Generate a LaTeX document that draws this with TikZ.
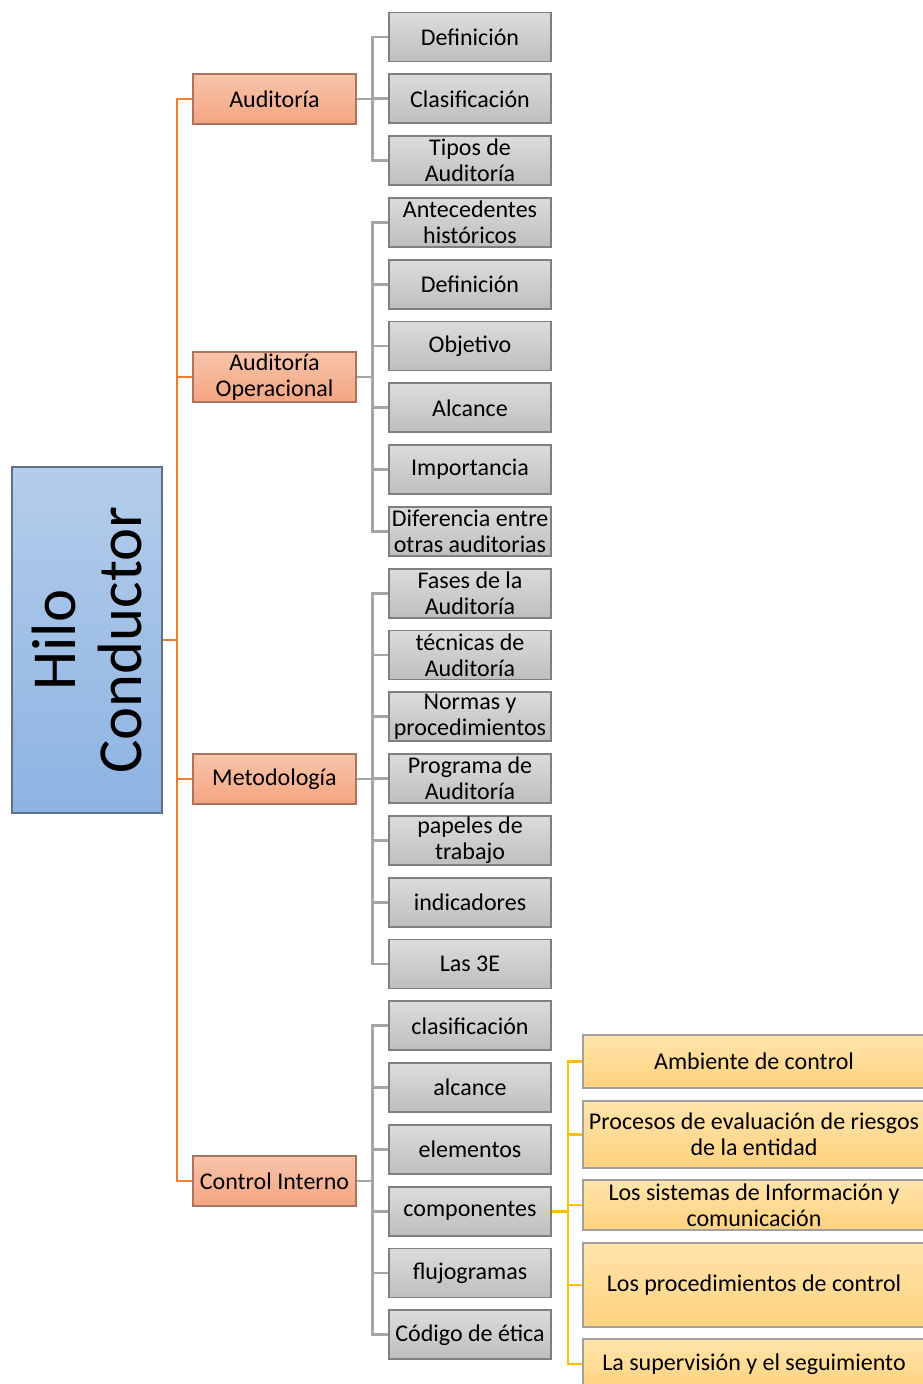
\documentclass[tikz,border=0pt]{standalone}
\usepackage{fontspec}
\setmainfont{Carlito}
\begin{document}
\begin{tikzpicture}[x=0.75pt,y=-0.75pt,
  txt/.style={font=\fontsize{18}{19.5}\selectfont, align=center, inner sep=0pt, text=black},
  rootbox/.style={draw=rootedge, line width=1.5pt, top color=rootA, bottom color=rootB,
    minimum width=259.5pt, minimum height=112.5pt, rotate=90, align=center, inner sep=0pt,
    font=\fontsize{47}{49}\selectfont},
  obox/.style={txt, draw=oedge, line width=1.3pt, top color=oA, bottom color=oB,
    minimum width=122pt, minimum height=37.5pt},
  gbox/.style={txt, draw=gedge, line width=1.3pt, top color=gA, bottom color=gB,
    minimum width=121.5pt, minimum height=36.75pt},
  ybox/.style={txt, draw=yedge, line width=1.3pt, top color=yA, bottom color=yB,
    minimum width=256.5pt},
  oline/.style={draw=ocol, line width=1.8pt},
  gline/.style={draw=gcol, line width=2pt},
  yline/.style={draw=ycol, line width=2pt}]
\definecolor{rootA}{HTML}{B4CDEB}\definecolor{rootB}{HTML}{8DB3E2}\definecolor{rootedge}{HTML}{5F7189}
\definecolor{oA}{HTML}{F8C4AA}\definecolor{oB}{HTML}{F4A581}\definecolor{oedge}{HTML}{A87560}
\definecolor{gA}{HTML}{DCDCDC}\definecolor{gB}{HTML}{BEBEBE}\definecolor{gedge}{HTML}{7F7F7F}
\definecolor{yA}{HTML}{FFE4AC}\definecolor{yB}{HTML}{FFD27E}\definecolor{yedge}{HTML}{A0A0A0}
\definecolor{ocol}{HTML}{ED7D31}\definecolor{gcol}{HTML}{A5A5A5}\definecolor{ycol}{HTML}{FFC000}

\useasboundingbox (0,0) rectangle (923,1384);

% root
\node[rootbox] (root) at (87,640) {Hilo\\Conductor};

% second level
\node[obox] (o1) at (274.5,99) {Auditoría};
\node[obox] (o2) at (274.5,377) {Auditoría\\Operacional};
\node[obox] (o3) at (274.5,779) {Metodología};
\node[obox] (o4) at (274.5,1181) {Control Interno};

% third level
\def\gy#1{37+61.8*#1}
\node[gbox] (g0)  at (470,{\gy{0}})  {Definición};
\node[gbox] (g1)  at (470,{\gy{1}})  {Clasificación};
\node[gbox] (g2)  at (470,{\gy{2}})  {Tipos de\\Auditoría};
\node[gbox] (g3)  at (470,{\gy{3}})  {Antecedentes\\históricos};
\node[gbox] (g4)  at (470,{\gy{4}})  {Definición};
\node[gbox] (g5)  at (470,{\gy{5}})  {Objetivo};
\node[gbox] (g6)  at (470,{\gy{6}})  {Alcance};
\node[gbox] (g7)  at (470,{\gy{7}})  {Importancia};
\node[gbox] (g8)  at (470,{\gy{8}})  {Diferencia entre\\otras auditorias};
\node[gbox] (g9)  at (470,{\gy{9}})  {Fases de la\\Auditoría};
\node[gbox] (g10) at (470,{\gy{10}}) {técnicas de\\Auditoría};
\node[gbox] (g11) at (470,{\gy{11}}) {Normas y\\procedimientos};
\node[gbox] (g12) at (470,{\gy{12}}) {Programa de\\Auditoría};
\node[gbox] (g13) at (470,{\gy{13}}) {papeles de\\trabajo};
\node[gbox] (g14) at (470,{\gy{14}}) {indicadores};
\node[gbox] (g15) at (470,{\gy{15}}) {Las 3E};
\node[gbox] (g16) at (470,{\gy{16}}) {clasificación};
\node[gbox] (g17) at (470,{\gy{17}}) {alcance};
\node[gbox] (g18) at (470,{\gy{18}}) {elementos};
\node[gbox] (g19) at (470,{\gy{19}}) {componentes};
\node[gbox] (g20) at (470,{\gy{20}}) {flujogramas};
\node[gbox] (g21) at (470,{\gy{21}}) {Código de ética};

% components
\node[ybox, minimum height=39.75pt] (y1) at (754,1061.5) {Ambiente de control};
\node[ybox, minimum height=50.25pt] (y2) at (754,1134.5) {Procesos de evaluación de riesgos\\de la entidad};
\node[ybox, minimum height=37.5pt]  (y3) at (754,1205) {Los sistemas de Información y\\comunicación};
\node[ybox, minimum height=63pt]    (y4) at (754,1285) {Los procedimientos de control};
\node[ybox, minimum height=38pt]    (y5) at (754,1364) {La supervisión y el seguimiento};

% connectors: root to second level
\coordinate (trunk) at (177,640);
\draw[oline] (root.south) -- (trunk);
\foreach \o in {o1,o2,o3,o4} \draw[oline] (trunk) |- (\o.west);

% second to third level
\foreach \g in {g0,g1,g2} \draw[gline] (o1.east) -- ++(16,0) |- (\g.west);
\foreach \g in {g3,g4,g5,g6,g7,g8} \draw[gline] (o2.east) -- ++(16,0) |- (\g.west);
\foreach \g in {g9,g10,g11,g12,g13,g14,g15} \draw[gline] (o3.east) -- ++(16,0) |- (\g.west);
\foreach \g in {g16,g17,g18,g19,g20,g21} \draw[gline] (o4.east) -- ++(16,0) |- (\g.west);

% componentes to its items
\foreach \y in {y1,y2,y3,y4,y5} \draw[yline] (g19.east) -- ++(16,0) |- (\y.west);
\end{tikzpicture}
\end{document}
